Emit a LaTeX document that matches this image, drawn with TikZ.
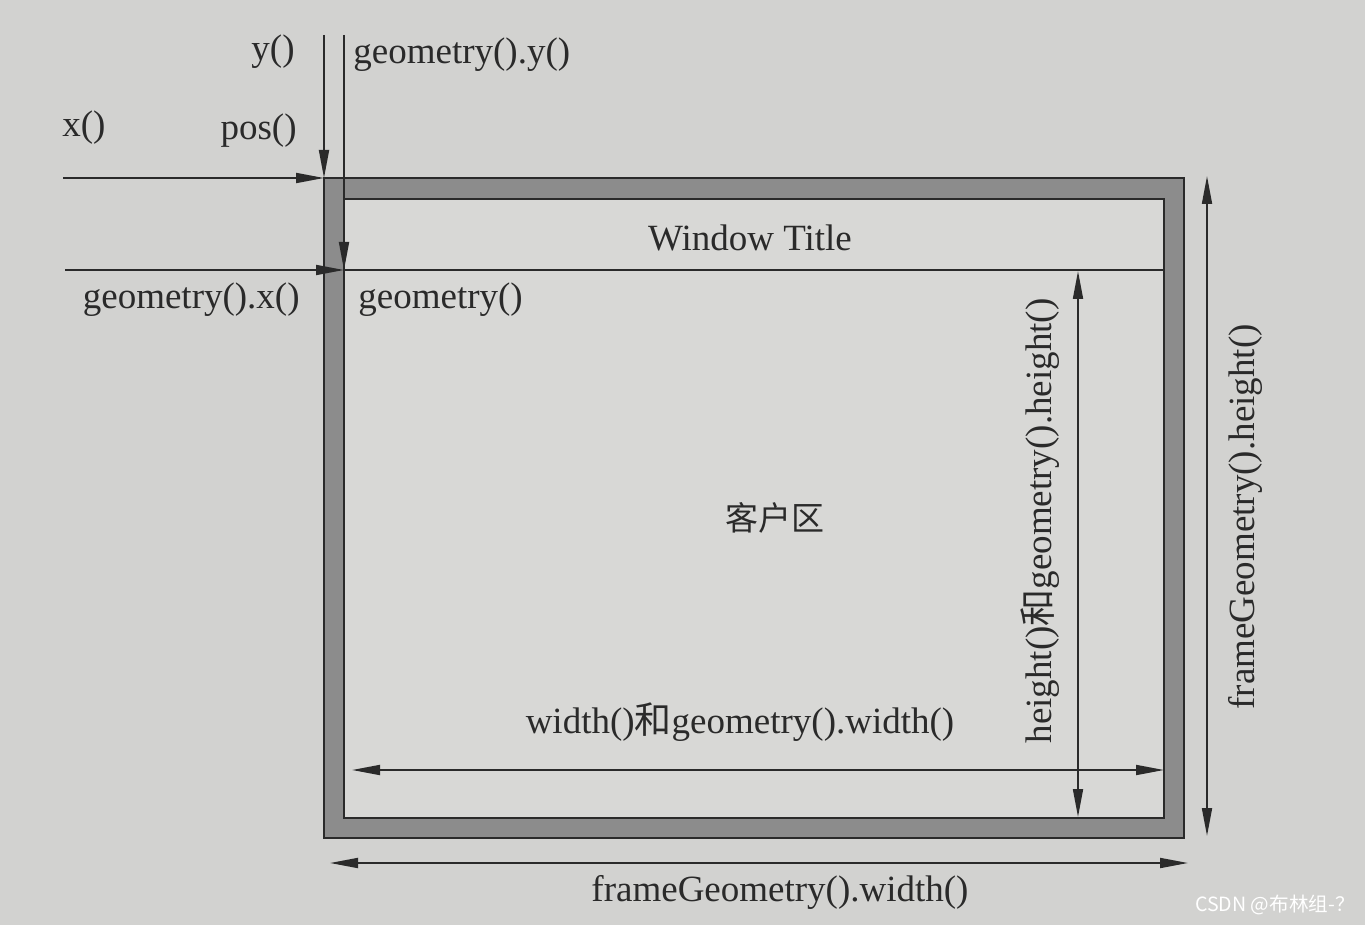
\documentclass[tikz,border=0pt]{standalone}
\usepackage{fontspec}
\setmainfont{Liberation Serif}
\newfontfamily\cjk{Noto Sans CJK SC}
\usetikzlibrary{arrows.meta}
\definecolor{bg}{HTML}{D2D2D0}
\definecolor{innerbg}{HTML}{D8D8D6}
\definecolor{framegray}{HTML}{8C8C8C}
\definecolor{ink}{HTML}{2A2A2A}
\begin{document}
\begin{tikzpicture}[x=0.5pt,y=-0.5pt,
  lbl/.style={font=\fontsize{18.5}{20}\selectfont, inner sep=0pt, text=ink},
  frameline/.style={draw=ink, line width=1.1pt},
  arr/.style={draw=ink, line width=0.9pt, -{Triangle[length=14pt,width=5pt]}},
  darr/.style={draw=ink, line width=0.9pt, {Triangle[length=14pt,width=5pt]}-{Triangle[length=14pt,width=5pt]}},
  wmark/.style={font=\cjk\fontsize{9.8}{11}\selectfont, text=white, inner sep=0pt}]
\fill[bg] (0,0) rectangle (1365,925);
\useasboundingbox (0,0) rectangle (1365,925);

% frame corners
\coordinate (oTL) at (324,178);
\coordinate (oBR) at (1184,838);
\coordinate (iTL) at (344,199);
\coordinate (iBR) at (1164,818);
\coordinate (tL) at (344,270);
\coordinate (tR) at (1164,270);

\filldraw[frameline, fill=framegray] (oTL) rectangle (oBR);
\filldraw[frameline, fill=innerbg] (iTL) rectangle (iBR);
\draw[frameline] (tL) -- (tR);

% pos arrows
\coordinate (xS) at (63,178);
\coordinate (yS) at (324,35);
\coordinate (gxS) at (65,270);
\coordinate (gyS) at (344,35);
\draw[arr] (xS) -- (oTL);
\draw[arr] (yS) -- (oTL);
\draw[arr] (gxS) -- (tL);
\draw[arr] (gyS) -- (tL);

% dimension arrows
\coordinate (wL) at (352,770);
\coordinate (wR) at (1164,770);
\draw[darr] (wL) -- (wR);
\coordinate (hT) at (1078,271);
\coordinate (hB) at (1078,817);
\draw[darr] (hT) -- (hB);
\coordinate (fhT) at (1207,176);
\coordinate (fhB) at (1207,836);
\draw[darr] (fhT) -- (fhB);
\coordinate (fwL) at (330,863);
\coordinate (fwR) at (1188,863);
\draw[darr] (fwL) -- (fwR);

% labels
\node[lbl, anchor=east] (ly) at (295,52) {y()};
\node[lbl, anchor=west] (lgy) at (353,55) {geometry().y()};
\node[lbl, anchor=west] (lx) at (62,128) {x()};
\node[lbl, anchor=east] (lpos) at (297,131) {pos()};
\node[lbl, anchor=east] (lgx) at (300,300) {geometry().x()};
\node[lbl, anchor=west] (lg) at (358,300) {geometry()};
\node[lbl] (ltitle) at (750,238) {Window Title};
\node[lbl, font=\cjk\fontsize{16.5}{18}\selectfont] (lclient) at (775,518) {客户区};
\node[lbl] (lw) at (740,722) {width(){\cjk 和}geometry().width()};
\node[lbl, rotate=90] (lh) at (1040,521) {height(){\cjk 和}geometry().height()};
\node[lbl, rotate=90] (lfh) at (1245,517) {frameGeometry().height()};
\node[lbl] (lfw) at (780,892) {frameGeometry().width()};
\node[wmark] (wm) at (1275,905) {CSDN @布林组-？};
\end{tikzpicture}
\end{document}
